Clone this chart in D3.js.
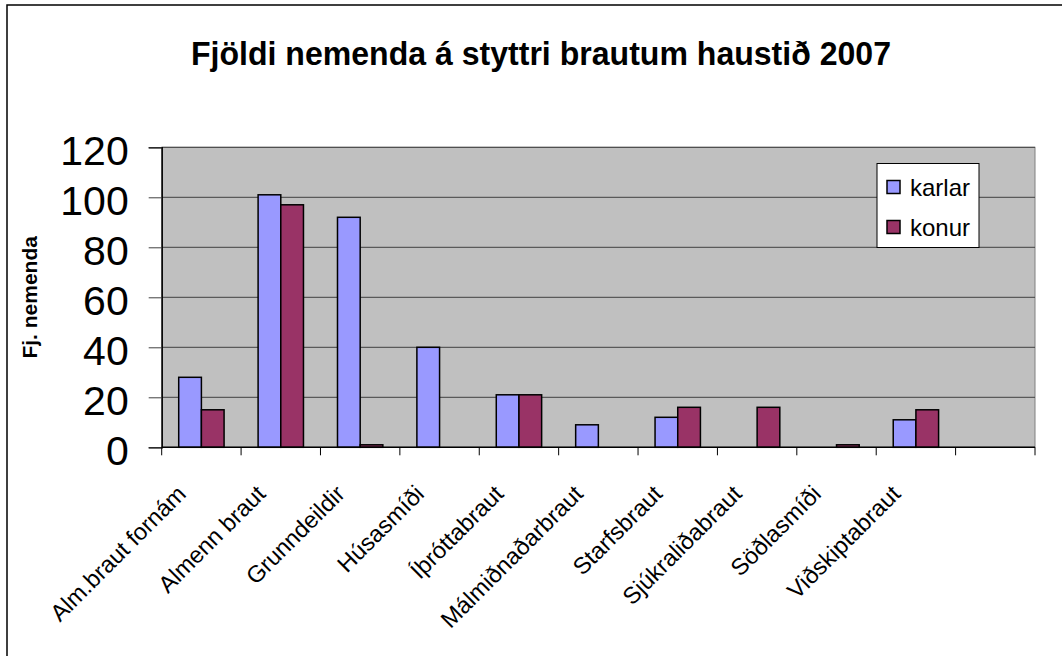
<!DOCTYPE html>
<meta charset="utf-8">
<head>
  <title>Fjöldi nemenda á styttri brautum haustið 2007</title>
</head>
<style>
  html, body {
    margin: 0;
    padding: 0;
    background: #fff;
    overflow: hidden;
  }
  svg text {
    font-family: "Liberation Sans", Arial, Helvetica, sans-serif;
    fill: #000;
  }
</style>
<body>
<svg id="chart" width="1062" height="656"></svg>
<script src="https://cdnjs.cloudflare.com/ajax/libs/d3/7.8.5/d3.min.js"></script>
<script>
var categories = ['Alm.braut fornám', 'Almenn braut', 'Grunndeildir', 'Húsasmíði',
  'Íþróttabraut', 'Málmiðnaðarbraut', 'Starfsbraut', 'Sjúkraliðabraut',
  'Söðlasmíði', 'Viðskiptabraut', ''];
var seriesNames = ['karlar', 'konur'];
var karlar = [28, 101, 92, 40, 21, 9, 12, 0, 0, 11, 0];
var konur = [15, 97, 1, 0, 21, 0, 16, 16, 1, 15, 0];
var yTicks = [0, 20, 40, 60, 80, 100, 120];
var colors = ['#9999ff', '#993366'];

var svg = d3.select('#chart');
var plotLeft = 161.7, plotRight = 1035, plotTop = 147.3, plotBottom = 447.3;

// outer chart frame
svg.append('rect')
  .attr('x', 7).attr('y', 5)
  .attr('width', 1070).attr('height', 680)
  .attr('fill', 'none').attr('stroke', '#000').attr('stroke-width', 1.5);

svg.append('text')
  .attr('x', 541).attr('y', 65)
  .attr('text-anchor', 'middle')
  .attr('font-size', 34).attr('font-weight', 'bold')
  .attr('textLength', 700).attr('lengthAdjust', 'spacingAndGlyphs')
  .text('Fjöldi nemenda á styttri brautum haustið 2007');

var x = d3.scaleBand().domain(categories).range([plotLeft, plotRight]).padding(0);
var xs = d3.scaleBand().domain(seriesNames).range([0, x.bandwidth()])
  .paddingInner(0).paddingOuter(0.75);
var y = d3.scaleLinear().domain([0, 120]).range([plotBottom, plotTop]);

// plot area
svg.append('rect')
  .attr('x', plotLeft).attr('y', plotTop)
  .attr('width', plotRight - plotLeft).attr('height', plotBottom - plotTop)
  .attr('fill', '#c0c0c0').attr('stroke', '#808080').attr('stroke-width', 1);

svg.append('g').selectAll('line')
  .data(yTicks.slice(1))
  .enter().append('line')
  .attr('x1', plotLeft).attr('x2', plotRight)
  .attr('y1', function(d) { return y(d); })
  .attr('y2', function(d) { return y(d); })
  .attr('stroke', '#404040').attr('stroke-width', 1);

var table = categories.map(function(c, i) {
  return {cat: c, values: [karlar[i], konur[i]]};
});

var groups = svg.append('g').selectAll('g')
  .data(table)
  .enter().append('g')
  .attr('transform', function(d) { return 'translate(' + x(d.cat) + ',0)'; });

groups.selectAll('rect')
  .data(function(d) {
    return d.values.map(function(v, j) { return {name: seriesNames[j], value: v, j: j}; })
      .filter(function(e) { return e.value > 0; });
  })
  .enter().append('rect')
  .attr('x', function(d) { return xs(d.name); })
  .attr('width', xs.bandwidth())
  .attr('y', function(d) { return y(d.value); })
  .attr('height', function(d) { return plotBottom - y(d.value); })
  .attr('fill', function(d) { return colors[d.j]; })
  .attr('stroke', '#000').attr('stroke-width', 1.5);

// y axis
var yAxis = svg.append('g')
  .attr('transform', 'translate(' + plotLeft + ',0)')
  .call(d3.axisLeft(y).tickValues(yTicks).tickSize(13).tickPadding(20));
yAxis.select('.domain').attr('stroke', '#000').attr('stroke-width', 1.5);
yAxis.selectAll('.tick line').attr('stroke', '#404040');
yAxis.selectAll('.tick text')
  .attr('font-size', 41).attr('font-family', null).attr('dy', '0.41em');

// x axis line and ticks between categories
svg.append('line')
  .attr('x1', plotLeft).attr('x2', plotRight)
  .attr('y1', plotBottom).attr('y2', plotBottom)
  .attr('stroke', '#000').attr('stroke-width', 1.5);

svg.append('g').selectAll('line')
  .data(d3.range(categories.length + 1))
  .enter().append('line')
  .attr('x1', function(i) { return plotLeft + i * x.step(); })
  .attr('x2', function(i) { return plotLeft + i * x.step(); })
  .attr('y1', plotBottom).attr('y2', plotBottom + 8)
  .attr('stroke', '#000').attr('stroke-width', 1);

svg.append('g').selectAll('text')
  .data(categories)
  .enter().append('text')
  .attr('transform', function(d) {
    return 'translate(' + (x(d) + x.bandwidth() / 2 - 14) + ',' + (plotBottom + 48) + ') rotate(-45)';
  })
  .attr('text-anchor', 'end')
  .attr('font-size', 23.5)
  .text(function(d) { return d; });

// axis title
svg.append('text')
  .attr('transform', 'translate(37,' + ((plotTop + plotBottom) / 2) + ') rotate(-90)')
  .attr('text-anchor', 'middle')
  .attr('font-size', 21).attr('font-weight', 'bold')
  .text('Fj. nemenda');

// legend
var legend = svg.append('g').attr('transform', 'translate(877,163.5)');
legend.append('rect')
  .attr('width', 102).attr('height', 84)
  .attr('fill', '#fff').attr('stroke', '#000').attr('stroke-width', 1);
var items = legend.selectAll('g.item')
  .data(seriesNames)
  .enter().append('g')
  .attr('class', 'item')
  .attr('transform', function(d, i) { return 'translate(10,' + (17 + i * 40) + ')'; });
items.append('rect')
  .attr('width', 13).attr('height', 13)
  .attr('fill', function(d, i) { return colors[i]; })
  .attr('stroke', '#000').attr('stroke-width', 1.5);
items.append('text')
  .attr('x', 23).attr('y', 15)
  .attr('font-size', 24)
  .text(function(d) { return d; });
</script>
</body>
